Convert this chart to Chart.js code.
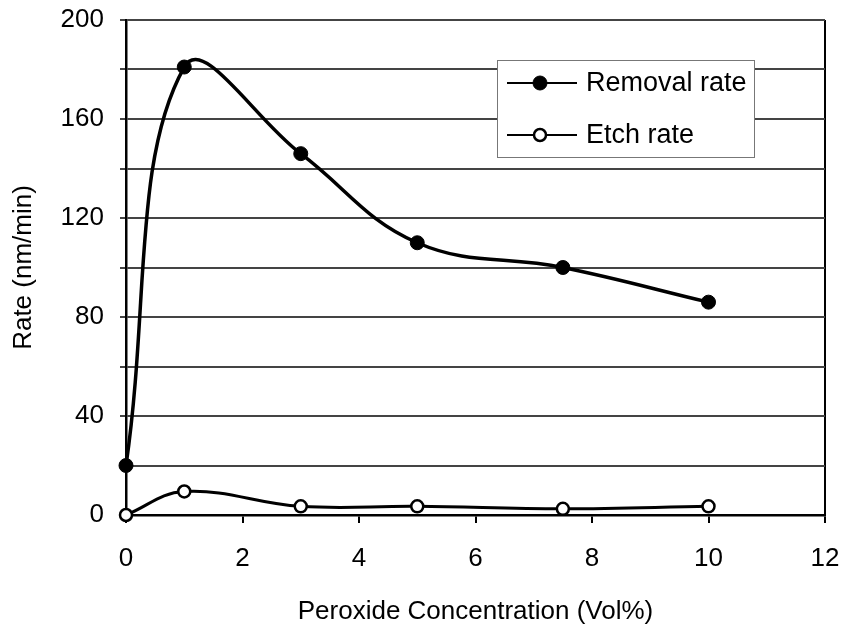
<!DOCTYPE html>
<html>
<head>
<meta charset="utf-8">
<script src="https://cdn.jsdelivr.net/npm/chart.js@4/dist/chart.umd.min.js"></script>
<style>
    html, body { margin: 0; padding: 0; background: #fff; }
    #wrap { width: 846px; height: 633px; }
</style>
</head>
<body>
<div id="wrap"><canvas id="rateChart" width="846" height="633"></canvas></div>
<script>
// Peroxide concentration (Vol%) and measured rates (nm/min)
const concentrations = [0, 1, 3, 5, 7.5, 10];
const removalRate = [20, 181, 146, 110, 100, 86];
const etchRate = [0, 9.5, 3.5, 3.5, 2.5, 3.5];

const seriesLabels = ['Removal rate', 'Etch rate'];
const xTitle = 'Peroxide Concentration (Vol%)';
const yTitle = 'Rate (nm/min)';

const fontFamily = '"Liberation Sans", Arial, Helvetica, sans-serif';
const inkColor = '#000';

function toPoints(xs, ys) {
    return xs.map((x, i) => ({ x: x, y: ys[i] }));
}

// Legend box drawn inside the plot area, upper right
const insideLegend = {
    id: 'insideLegend',
    afterDraw(chart) {
        const ctx = chart.ctx;
        const box = { left: 497, top: 60, width: 257, height: 97 };
        ctx.save();
        ctx.fillStyle = '#fff';
        ctx.fillRect(box.left, box.top, box.width, box.height);
        ctx.strokeStyle = '#777';
        ctx.lineWidth = 1;
        ctx.strokeRect(box.left + 0.5, box.top + 0.5, box.width, box.height);

        const rows = [83, 135];
        chart.data.datasets.forEach((ds, i) => {
            const y = rows[i];
            ctx.strokeStyle = ds.borderColor;
            ctx.lineWidth = 2;
            ctx.beginPath();
            ctx.moveTo(507, y);
            ctx.lineTo(577, y);
            ctx.stroke();

            ctx.beginPath();
            ctx.arc(540, y, ds.pointRadius, 0, Math.PI * 2);
            ctx.fillStyle = ds.pointBackgroundColor;
            ctx.fill();
            ctx.lineWidth = ds.pointBorderWidth;
            ctx.strokeStyle = ds.pointBorderColor;
            ctx.stroke();

            ctx.fillStyle = inkColor;
            ctx.font = '27px ' + fontFamily;
            ctx.textAlign = 'left';
            ctx.textBaseline = 'middle';
            ctx.fillText(ds.label, 586, y + 1);
        });
        ctx.restore();
    }
};

new Chart(document.getElementById('rateChart'), {
    type: 'line',
    data: {
        datasets: [{
            label: seriesLabels[0],
            data: toPoints(concentrations, removalRate),
            borderColor: '#000',
            borderWidth: 3.5,
            tension: 0.4,
            pointRadius: 7,
            pointBackgroundColor: '#000',
            pointBorderColor: '#000',
            pointBorderWidth: 1,
            clip: false
        }, {
            label: seriesLabels[1],
            data: toPoints(concentrations, etchRate),
            borderColor: '#000',
            borderWidth: 3,
            tension: 0.4,
            pointRadius: 6,
            pointBackgroundColor: '#fff',
            pointBorderColor: '#000',
            pointBorderWidth: 2.5,
            clip: false
        }]
    },
    options: {
        responsive: false,
        animation: false,
        layout: {
            padding: { left: 0, right: 21, top: 20, bottom: 4 }
        },
        plugins: {
            legend: { display: false },
            tooltip: { enabled: false }
        },
        scales: {
            x: {
                type: 'linear',
                min: 0,
                max: 12,
                afterFit: scale => {
                    scale.height = 114;
                    // edge labels fit inside the layout padding already
                    scale.paddingLeft = 0;
                    scale.paddingRight = 0;
                },
                ticks: {
                    stepSize: 2,
                    padding: 20,
                    color: inkColor,
                    font: { family: fontFamily, size: 26 }
                },
                grid: {
                    drawOnChartArea: true,
                    tickLength: 8,
                    tickColor: '#000',
                    lineWidth: 2,
                    // only the right-hand frame line is shown inside the plot
                    color: c => c.tick && c.tick.value === 12 ? '#000' : 'rgba(0,0,0,0)'
                },
                border: { color: '#000', width: 2.5 },
                title: {
                    display: true,
                    text: xTitle,
                    color: inkColor,
                    padding: { top: 4, bottom: 2 },
                    font: { family: fontFamily, size: 26 }
                }
            },
            y: {
                min: 0,
                max: 200,
                afterFit: scale => {
                    scale.width = 126;
                    scale.paddingTop = 0;
                    scale.paddingBottom = 0;
                },
                ticks: {
                    stepSize: 20,
                    autoSkip: false,
                    padding: 16,
                    color: inkColor,
                    font: { family: fontFamily, size: 26 },
                    callback: v => v % 40 === 0 ? v : ''
                },
                grid: {
                    color: '#444',
                    lineWidth: 2,
                    tickLength: 6,
                    tickColor: '#444'
                },
                border: { color: '#000', width: 2.5 },
                title: {
                    display: true,
                    text: yTitle,
                    color: inkColor,
                    padding: { top: 8, bottom: 4 },
                    font: { family: fontFamily, size: 26 }
                }
            }
        }
    },
    plugins: [insideLegend]
});
</script>
</body>
</html>
